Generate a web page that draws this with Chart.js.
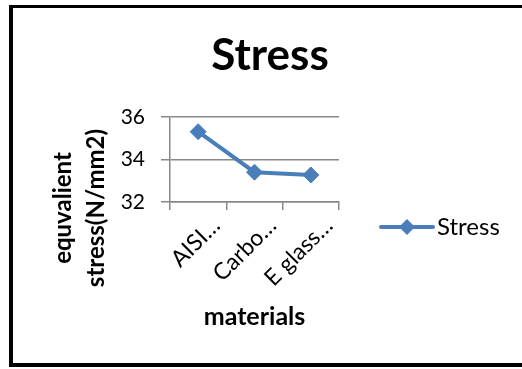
<!DOCTYPE html>
<html>
<head>
<meta charset="utf-8">
<script src="https://cdn.jsdelivr.net/npm/chart.js@4"></script>
<style>
    html, body { margin: 0; padding: 0; background: #fff; overflow: hidden; }
    #frame { position: absolute; left: 9px; top: 5px; width: 540px; height: 355px; border: 4px solid #000; border-top-width: 3px; }
    #wrap { position: absolute; left: 0; top: 0; width: 522px; height: 369px; }
</style>
</head>
<body>
<div id="frame"></div>
<div id="wrap"><canvas id="lineChart" width="522" height="369"></canvas></div>
<script>
// values
const materials = ['AISI…', 'Carbo…', 'E glass…'];
const stressValues = [35.3, 33.4, 33.27];
const yMin = 32;
const yMax = 36;
const yStep = 2;
const yTitleLines = ['equvalient', 'stress(N/mm2)'];

const lineColor = '#4A7EBB';
const gridColor = '#888888';
const fontFamily = 'Lato, "Open Sans", sans-serif';

// Excel puts the value-axis title lower than the plot centre, so draw it here
const sideTitle = {
    id: 'sideTitle',
    afterDraw(chart) {
        const ctx = chart.ctx;
        ctx.save();
        ctx.fillStyle = '#000';
        ctx.font = 'bold 24px ' + fontFamily;
        ctx.textAlign = 'center';
        ctx.textBaseline = 'middle';
        const xs = [63, 96];
        yTitleLines.forEach((line, i) => {
            ctx.save();
            ctx.translate(xs[i], 208);
            ctx.rotate(-Math.PI / 2);
            ctx.fillText(line, 0, 0);
            ctx.restore();
        });
        ctx.restore();
    }
};

// Excel-style legend, drawn to the right of the plot
const sideLegend = {
    id: 'sideLegend',
    afterDraw(chart) {
        const ctx = chart.ctx;
        const y = 227;
        ctx.save();
        ctx.strokeStyle = lineColor;
        ctx.lineWidth = 4;
        ctx.lineCap = 'round';
        ctx.beginPath();
        ctx.moveTo(381, y);
        ctx.lineTo(433, y);
        ctx.stroke();
        ctx.fillStyle = lineColor;
        ctx.beginPath();
        ctx.moveTo(407 - 8, y);
        ctx.lineTo(407, y - 8);
        ctx.lineTo(407 + 8, y);
        ctx.lineTo(407, y + 8);
        ctx.closePath();
        ctx.fill();
        ctx.fillStyle = '#000';
        ctx.font = '24px ' + fontFamily;
        ctx.textBaseline = 'middle';
        ctx.textAlign = 'left';
        ctx.fillText(chart.data.datasets[0].label, 437, y);
        ctx.restore();
    }
};

const ctx = document.getElementById('lineChart').getContext('2d');
new Chart(ctx, {
    type: 'line',
    data: {
        labels: materials,
        datasets: [{
            label: 'Stress',
            data: stressValues,
            borderColor: lineColor,
            backgroundColor: lineColor,
            borderWidth: 4,
            pointStyle: 'rectRot',
            pointRadius: 8,
            pointBorderWidth: 1,
            tension: 0,
            fill: false
        }]
    },
    options: {
        responsive: false,
        animation: false,
        layout: { padding: { left: 47, right: 29, top: 0, bottom: 35 } },
        plugins: {
            legend: { display: false },
            tooltip: { enabled: false },
            title: {
                display: true,
                text: 'Stress',
                color: '#000',
                font: { family: fontFamily, size: 44, weight: 'bold', lineHeight: 1.2 },
                padding: { top: 29, bottom: 35 }
            }
        },
        scales: {
            x: {
                offset: true,
                grid: { offset: true, drawOnChartArea: false, color: gridColor, tickLength: 8, lineWidth: 1.5 },
                border: { color: gridColor, width: 1.5 },
                ticks: {
                    color: '#000',
                    font: { family: fontFamily, size: 23 },
                    minRotation: 45,
                    maxRotation: 45,
                    labelOffset: 18,
                    padding: 2,
                    autoSkip: false
                },
                title: {
                    display: true,
                    text: 'materials',
                    color: '#000',
                    font: { family: fontFamily, size: 25, weight: 'bold', lineHeight: 1.2 },
                    padding: { top: 0, bottom: 2 }
                },
                afterFit(scale) { scale.height = 132; }
            },
            y: {
                min: yMin,
                max: yMax,
                grid: { color: gridColor, tickLength: 9, lineWidth: 1.5 },
                border: { color: gridColor, width: 1.5 },
                ticks: {
                    stepSize: yStep,
                    color: '#000',
                    font: { family: fontFamily, size: 21 },
                    padding: 16
                },
                afterFit(scale) { scale.width = 123; }
            },
            // empty box on the right that keeps room for the legend
            legendRoom: {
                type: 'linear',
                position: 'right',
                grid: { display: false },
                border: { display: false },
                ticks: { display: false },
                afterFit(scale) { scale.width = 154; }
            }
        }
    },
    plugins: [sideTitle, sideLegend]
});
</script>
</body>
</html>
